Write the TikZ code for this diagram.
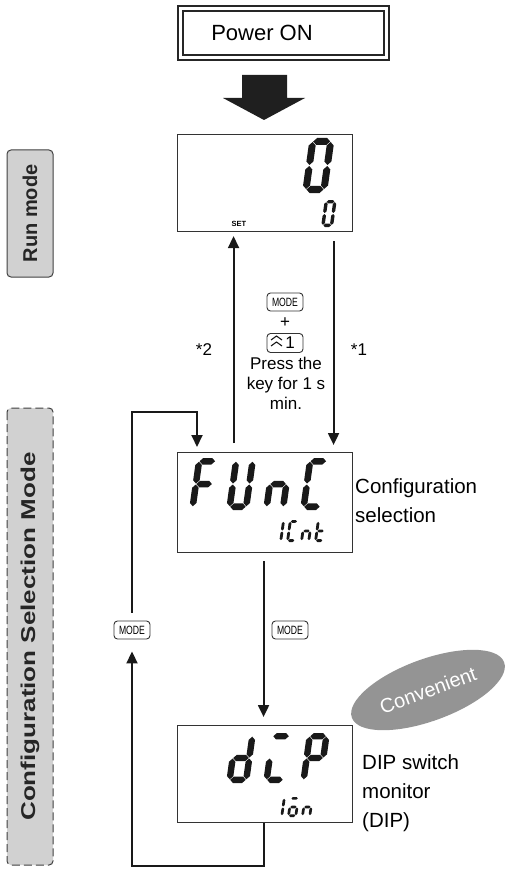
\documentclass[tikz,border=0pt]{standalone}
\usepackage{fontspec}
\setmainfont{Liberation Sans}
\usetikzlibrary{arrows.meta,shapes.geometric}

\newcommand\segH[1]{\fill ({\sT/2+\sG},{#1}) -- ({\sT+\sG},{#1+\sT/2}) -- ({\sW-\sT-\sG},{#1+\sT/2}) -- ({\sW-\sT/2-\sG},{#1}) -- ({\sW-\sT-\sG},{#1-\sT/2}) -- ({\sT+\sG},{#1-\sT/2}) -- cycle;}
\newcommand\segV[3]{\fill ({#1},{#2+\sG}) -- ({#1+\sT/2},{#2+\sT/2+\sG}) -- ({#1+\sT/2},{#3-\sT/2-\sG}) -- ({#1},{#3-\sG}) -- ({#1-\sT/2},{#3-\sT/2-\sG}) -- ({#1-\sT/2},{#2+\sT/2+\sG}) -- cycle;}
\newcommand\sgA{\segH{\sH-\sT/2}}
\newcommand\sgG{\segH{\sH/2}}
\newcommand\sgD{\segH{\sT/2}}
\newcommand\sgF{\segV{\sT/2}{\sH/2}{\sH-\sT/2}}
\newcommand\sgE{\segV{\sT/2}{\sT/2}{\sH/2}}
\newcommand\sgB{\segV{\sW-\sT/2}{\sH/2}{\sH-\sT/2}}
\newcommand\sgC{\segV{\sW-\sT/2}{\sT/2}{\sH/2}}
\newcommand\ssd[5]{\begin{scope}[shift={(#1,#2)},x=1pt,y=1pt,xslant=0.14,black!90]
 \def\sW{#3}\def\sH{#4}\pgfmathsetmacro\sT{0.17*#3+0.05*#4}\def\sG{0.5}#5\end{scope}}

\begin{document}
\begin{tikzpicture}[x=1pt,y=-1pt,
  conn/.style={line width=2pt, draw=black!90},
  tip/.style={-{Triangle[length=12pt,width=11pt]}},
  lcd/.style={draw=black!80, line width=1.1pt, fill=white, anchor=north west, minimum width=175pt, inner sep=0pt},
  keybox/.style={draw=black!80, line width=0.9pt, rounded corners=3.5pt, minimum width=36pt, minimum height=18pt, inner sep=0pt, fill=white},
  keytxt/.style={font=\fontsize{12}{12}\selectfont, xscale=0.72},
  lbl/.style={font=\fontsize{20.5}{29}\selectfont, align=left, anchor=west, inner sep=0pt},
  mid/.style={font=\fontsize{17}{20}\selectfont, align=center, inner sep=0pt},
  side/.style={fill=black!18, draw=black!75, line width=1pt, rounded corners=4pt, rotate=90, minimum height=46pt, inner sep=0pt},
  sidetxt/.style={rotate=90, inner sep=0pt, font=\bfseries\fontsize{20}{20}\selectfont, text=black!85},
]
\useasboundingbox (0,0) rectangle (507,869);

% Power ON
\node (pwr) [draw=black!85, line width=1.6pt, double=white, double distance=3.6pt, minimum width=206pt, minimum height=49pt, inner sep=0pt] at (283.5,33) {};
\node (pwrtxt) [font=\fontsize{22}{22}\selectfont, inner sep=0pt] at (262,33) {Power ON};
\fill[black!88] (242,75) -- (287,75) -- (287,98) -- (305,98) -- (264,120) -- (223,98) -- (242,98) -- cycle;

% side bars
\node (rm) [side, minimum width=127pt] at (30,213.5) {};
\node (rmt) [sidetxt] at (rm.center) {Run mode};
\node (cm) [side, dashed, dash pattern=on 8pt off 4pt, minimum width=457pt] at (30,636.5) {};
\node (cmt) [sidetxt, xscale=1.3] at (cm.center) {Configuration Selection Mode};

% displays
\node (run) [lcd, minimum height=97pt] at (177,134) {};
\node (cfg) [lcd, minimum height=100pt] at (177,452) {};
\node (dip) [lcd, minimum height=97pt] at (177,725) {};

% run display content
\ssd{302}{193}{25}{55}{\sgA\sgB\sgC\sgD\sgE\sgF}
\ssd{321}{227}{12}{27}{\sgA\sgB\sgC\sgD\sgE\sgF}
\node (set) [font=\bfseries\fontsize{7.5}{7.5}\selectfont, inner sep=0pt] at (239,224) {SET};

% config display content
\ssd{189}{510}{23}{52}{\sgA\sgE\sgF\sgG}
\ssd{226}{510}{23}{52}{\sgB\sgC\sgD\sgE\sgF}
\ssd{263}{510}{23}{52}{\sgC\sgE\sgG}
\ssd{300}{510}{23}{52}{\sgA\sgD\sgE\sgF}
\ssd{272}{542}{10}{22}{\sgB\sgC}
\ssd{286}{542}{10}{22}{\sgA\sgD\sgE\sgF}
\ssd{300}{542}{10}{22}{\sgC\sgE\sgG}
\ssd{314}{542}{10}{22}{\sgD\sgE\sgF\sgG}

% DIP display content
\ssd{226}{783}{23}{50}{\sgB\sgC\sgD\sgE\sgG}
\ssd{263}{783}{23}{50}{\sgA\sgD\sgE}
\ssd{300}{783}{23}{50}{\sgA\sgB\sgE\sgF\sgG}
\ssd{273}{817}{10}{20}{\sgB\sgC}
\ssd{287}{817}{10}{20}{\sgA\sgC\sgD\sgE\sgG}
\ssd{301}{817}{10}{20}{\sgC\sgE\sgG}

% keys and middle text
\node (k1) [keybox] at (285,302) {};
\node [keytxt] at (k1) {MODE};
\node (plus) [mid] at (285,323) {+};
\node (k2) [keybox, minimum height=19pt] at (285,343) {};
\draw[line width=1.1pt, black!90] (271,340) -- (276.5,336) -- (282,340) (271,346) -- (276.5,342) -- (282,346);
\node (one) [mid] at (290,343) {1};
\node (press) [mid] at (286,383) {Press the\\key for 1 s\\min.};
\node (s2) [mid] at (204,350) {*2};
\node (s1) [mid] at (359,350) {*1};

% arrows between run and cfg
\draw[conn,tip] ([xshift=-31.5pt,yshift=9pt]cfg.north) -- ([xshift=-31.5pt,yshift=-4pt]run.south);
\draw[conn,tip] ([xshift=68.5pt,yshift=-9pt]run.south) -- ([xshift=68.5pt,yshift=7pt]cfg.north);

% cfg -> dip
\node (kR) [keybox] at (290,630) {};
\node [keytxt] at (kR) {MODE};
\draw[conn,tip] ([xshift=-1.5pt,yshift=-8pt]cfg.south) -- ([xshift=-1.5pt,yshift=8pt]dip.north);

% loop back
\node (kL) [keybox] at (132,630) {};
\node [keytxt] at (kL) {MODE};
\coordinate (lb) at (132,866);
\coordinate (lt) at (197,412);
\coordinate (lin) at (197,447);
\draw[conn,tip] ([xshift=-1.5pt]dip.south) |- (lb) -- ([yshift=-12pt]kL.south);
\draw[conn,tip] ([yshift=8pt]kL.north) |- (lt) -- (lin);

% labels
\node (cfglbl) [lbl] at (355,501) {Configuration\\selection};
\node (diplbl) [lbl] at (362,793) {DIP switch\\monitor\\(DIP)};
\node (conv) [ellipse, fill=black!42, rotate=20, minimum width=162pt, minimum height=62pt, text=white, font=\fontsize{20}{20}\selectfont, inner sep=0pt] at (428,690) {Convenient};
\end{tikzpicture}
\end{document}
